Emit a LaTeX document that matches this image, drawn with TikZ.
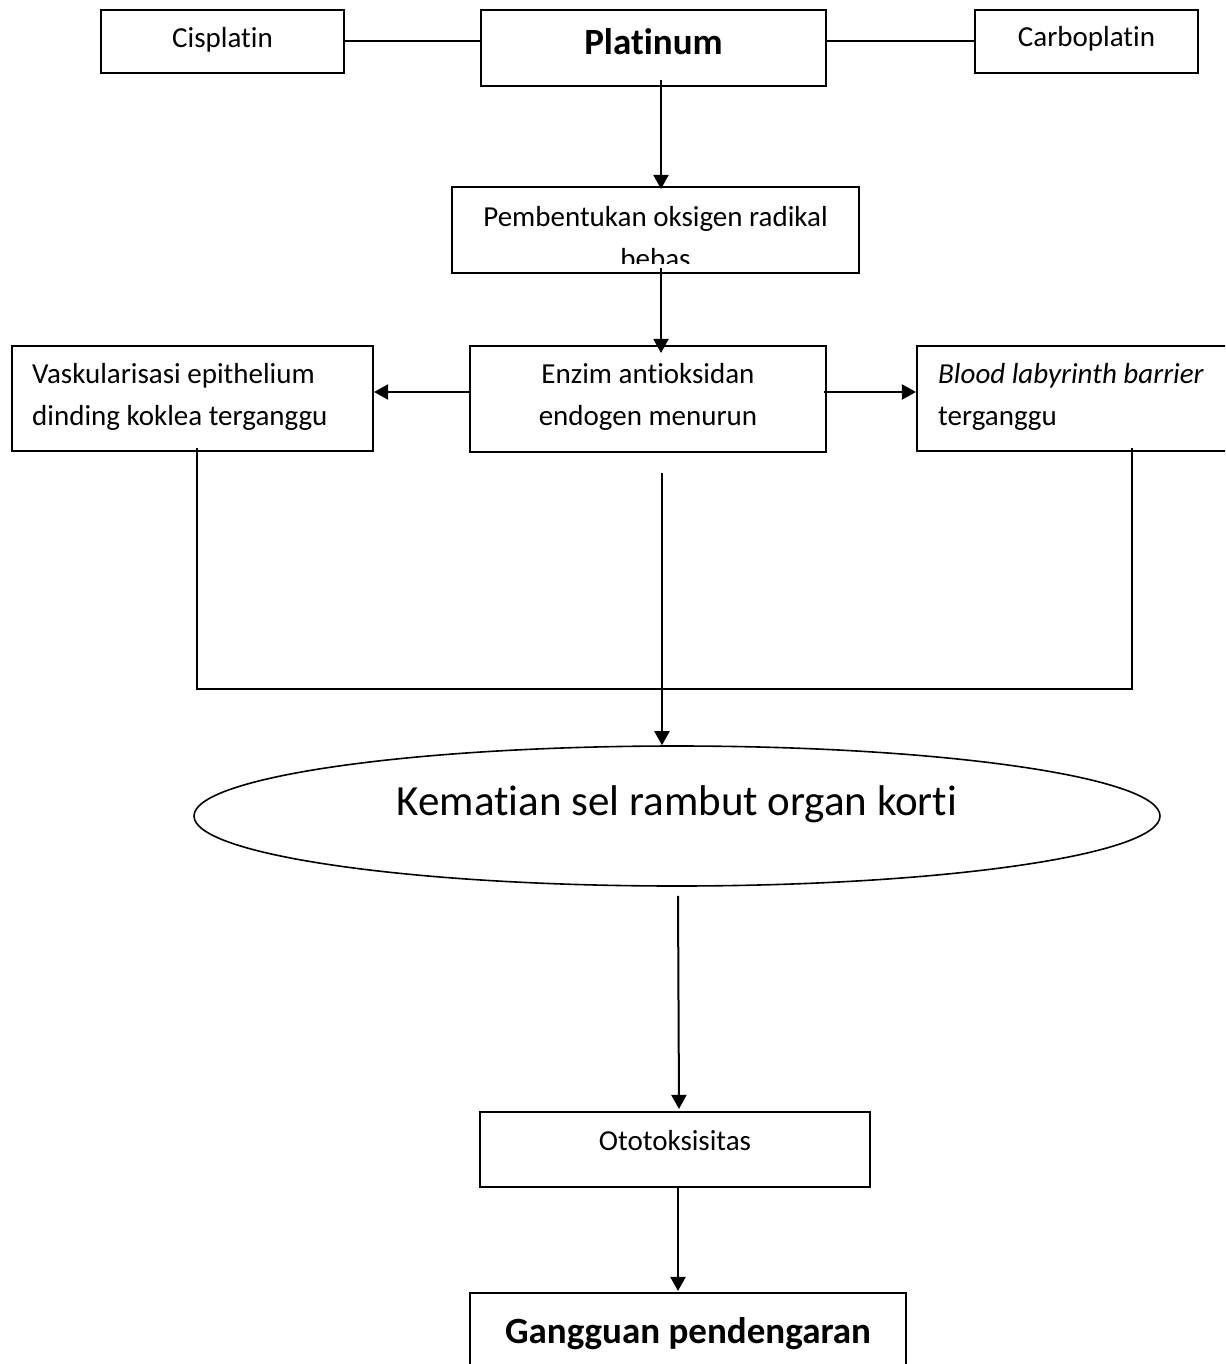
\documentclass[tikz,border=0pt]{standalone}
\usepackage{fontspec}
\setmainfont{Carlito}[Ligatures=CommonOff]
\usetikzlibrary{arrows.meta,shapes.geometric,calc}
\begin{document}
\begin{tikzpicture}[x=1pt,y=-1pt,
  box/.style={draw,line width=2.1pt,inner sep=0pt,rectangle},
  txt/.style={anchor=base,inner sep=0pt,font=\fontsize{29}{35}\selectfont},
  ltxt/.style={txt,anchor=base west},
  btxt/.style={anchor=base,inner sep=0pt,font=\fontsize{37}{44}\selectfont\bfseries},
  bigtxt/.style={anchor=base,inner sep=0pt,font=\fontsize{43}{50}\selectfont},
  con/.style={line width=2pt},
  thinline/.style={line width=1.5pt},
  arr/.style={line width=2pt,-{Triangle[length=14pt,width=15pt]}}]
\clip (0,0) rectangle (1225,1364);
\fill[white] (0,0) rectangle (1225,1364);

% boxes
\node[box,minimum width=243pt,minimum height=63pt] (cis) at (222.5,41.5) {};
\node[box,minimum width=345pt,minimum height=76pt] (plat) at (653.5,48) {};
\node[box,minimum width=223pt,minimum height=63pt] (carbo) at (1086.5,41.5) {};
\node[box,minimum width=407pt,minimum height=86pt] (pemb) at (655.5,230) {};
\node[box,minimum width=361pt,minimum height=105pt] (vask) at (192.5,398.5) {};
\node[box,minimum width=356pt,minimum height=106pt] (enz) at (648,399) {};
\node[box,minimum width=323pt,minimum height=105pt] (blood) at (1078.5,398.5) {};
\node[draw,ellipse,line width=1.6pt,inner sep=0pt,minimum width=966pt,minimum height=140pt] (ell) at (677,816) {};
\node[box,minimum width=390pt,minimum height=75pt] (oto) at (675,1149.5) {};
\node[box,minimum width=436pt,minimum height=107pt] (gang) at (688,1346.5) {};

% texts
\node[txt] (tcis) at (222.5,48) {Cisplatin};
\node[btxt] (tplat) at (653.5,55) {Platinum};
\node[txt] (tcarbo) at (1086.5,47) {Carboplatin};
\node[txt] (tpemb1) at (655.5,227) {Pembentukan oksigen radikal};
\begin{scope}
  \clip (452,187) rectangle (859,263);
  \node[txt] (tpemb2) at (655.5,269) {bebas};
\end{scope}
\node[ltxt] (tvask1) at (32,383) {Vaskularisasi epithelium};
\node[ltxt] (tvask2) at (32,425) {dinding koklea terganggu};
\node[txt] (tenz1) at (648,383) {Enzim antioksidan};
\node[txt] (tenz2) at (648,425) {endogen menurun};
\node[ltxt] (tblood1) at (938,383) {\textit{Blood labyrinth barrier}};
\node[ltxt] (tblood2) at (938,425) {terganggu};
\node[bigtxt] (tell) at (677,815) {Kematian sel rambut organ korti};
\node[txt] (toto) at (675,1150) {Ototoksisitas};
\node[btxt] (tgang) at (688,1343) {Gangguan pendengaran};

% connectors
\draw[con] (cis.east) -- (cis.east -| plat.west);
\draw[con] (plat.east |- carbo.west) -- (carbo.west);
\draw[arr] ([xshift=7.5pt,yshift=7pt]plat.south) -- ([xshift=5.5pt,yshift=-3pt]pemb.north);
\draw[arr] ([xshift=5.5pt,yshift=6pt]pemb.south) -- ([xshift=13pt,yshift=-8pt]enz.north);
\draw[arr] ([yshift=7pt]enz.west) -- ([yshift=6.5pt]vask.east);
\draw[arr] ([xshift=-3pt,yshift=7pt]enz.east) -- ([yshift=6.5pt]blood.west);
\coordinate (jl) at (197,689);
\coordinate (jr) at (1132,689);
\draw[thinline] ([xshift=4.5pt,yshift=4pt]vask.south) -- (jl) -- (jr) -- ([xshift=53.5pt,yshift=4pt]blood.south);
\draw[arr] ([xshift=14pt,yshift=-20pt]enz.south) -- ([xshift=-15pt]ell.north);
\draw[arr] ([xshift=1pt,yshift=-9pt]ell.south) -- ([xshift=4pt,yshift=2pt]oto.north);
\draw[arr] ([xshift=3pt]oto.south) -- ([xshift=-10pt,yshift=1pt]gang.north);
\end{tikzpicture}
\end{document}
